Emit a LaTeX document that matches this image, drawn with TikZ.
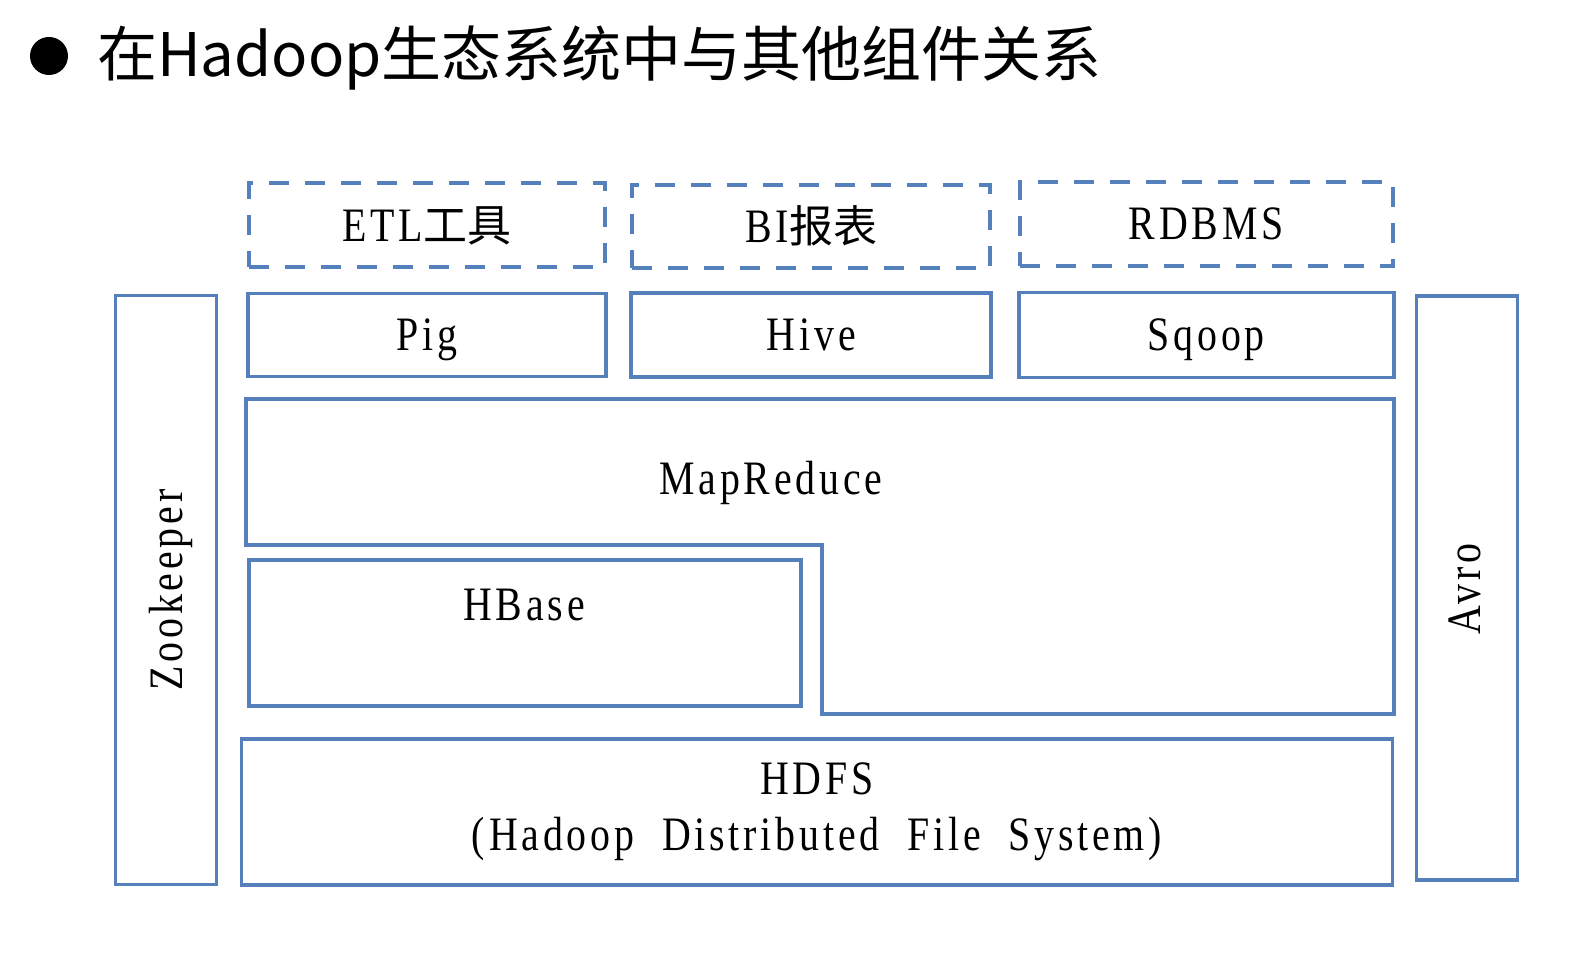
\documentclass[tikz,border=0pt]{standalone}
\usepackage{fontspec}
\usetikzlibrary{positioning}

\newfontfamily\cjkfont{Noto Sans CJK SC}
\newfontfamily\serffont[FakeStretch=0.83, LetterSpace=8, WordSpace=2]{Liberation Serif}
\newcommand\labelfont{\serffont\fontsize{48pt}{56pt}\selectfont}
\newcommand\titlefont{\cjkfont\fontsize{60pt}{64pt}\selectfont}
\newcommand\hanzi[1]{{\cjkfont\fontsize{44pt}{56pt}\selectfont #1}}
\definecolor{layerblue}{RGB}{86,128,188}

\begin{document}
\begin{tikzpicture}[x=1pt, y=-1pt,
                    boxline/.style={draw=layerblue, line width=3.8pt},
                    layer/.style={boxline, rectangle, inner sep=0pt, font=\labelfont},
                    capline/.style={text height=32pt, text depth=0pt},
                    toolbox/.style={layer, capline},
                    extlayer/.style={toolbox, dash pattern=on 20pt off 16pt},
                    lbl/.style={inner sep=0pt, font=\labelfont, capline},
                ]
                    \useasboundingbox (0,0) rectangle (1583,973);

                    %Title
                    \node[circle, fill=black, minimum size=38pt, inner sep=0pt](bullet) at (49,56) {};
                    \node[anchor=base west, inner sep=0pt, font=\titlefont](title) at (97,77) {在Hadoop生态系统中与其他组件关系};

                    %Tools
                    \node[toolbox, minimum width=358pt, minimum height=83pt](pig) at (427,335) {Pig};
                    \node[toolbox, minimum width=360pt, minimum height=84pt](hive)[right=21.5pt of pig] {Hive};
                    \node[toolbox, minimum width=375pt, minimum height=85pt](sqoop)[right=23.5pt of hive] {Sqoop};

                    %External systems
                    \node[extlayer, minimum width=356pt, minimum height=84pt](etl)[above=22.5pt of pig] {ETL\hanzi{工具}};
                    \node[extlayer, minimum width=358pt, minimum height=83pt](bi)[above=21.5pt of hive] {BI\hanzi{报表}};
                    \node[extlayer, minimum width=373pt, minimum height=84pt](rdbms)[above=23pt of sqoop] {RDBMS};

                    %MapReduce and HBase
                    \draw[boxline] (246,399) -- (1394,399) -- (1394,714) -- (822,714) -- (822,545) -- (246,545) -- cycle;
                    \node[lbl](mapreduce) at (771,478) {MapReduce};
                    \node[layer, minimum width=552pt, minimum height=146pt](hbase) at (525,633) {};
                    \node[lbl](hbasetxt) at (524,604) {HBase};

                    %HDFS
                    \node[layer, minimum width=1151pt, minimum height=146pt, align=center](hdfs) at (817,812) {HDFS\\(Hadoop Distributed File System)};

                    %Side services
                    \node[layer, minimum width=101pt, minimum height=589pt](zoo) at (166,590) {};
                    \node[lbl, rotate=90](zootxt) at (zoo.center) {Zookeeper};
                    \node[layer, minimum width=101pt, minimum height=584pt](avro) at (1467,588) {};
                    \node[lbl, rotate=90](avrotxt) at (1464,589) {Avro};
                \end{tikzpicture}
\end{document}
